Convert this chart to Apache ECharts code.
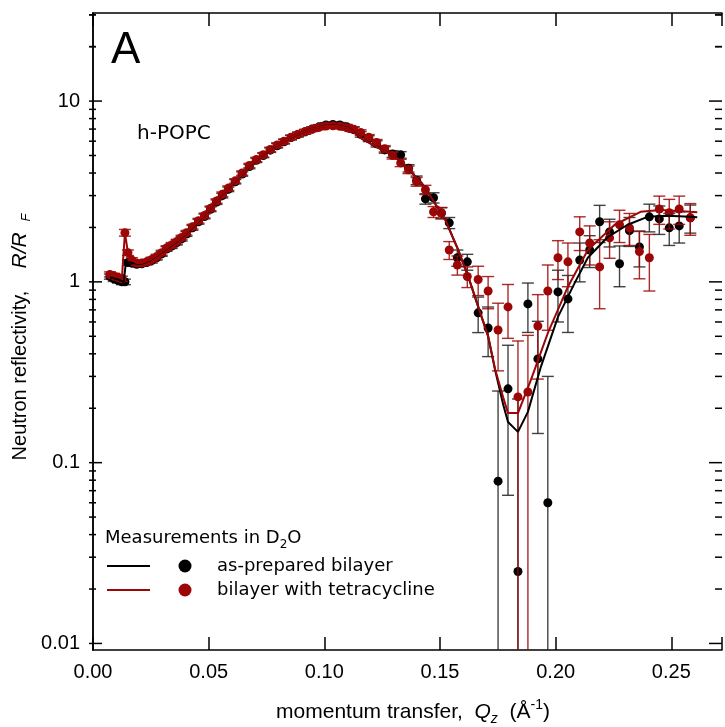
<!DOCTYPE html>
<html>
<head>
<meta charset="utf-8">
<script src="https://cdn.jsdelivr.net/npm/echarts@6/dist/echarts.min.js"></script>
<style>
  html, body { margin: 0; padding: 0; background: #fff; }
  #main { width: 725px; height: 727px; }
</style>
</head>
<body>
<div id="main"></div>
<script>
// momentum transfer Qz (1/A), shared by both measurements
const qValues = [
  0.0073, 0.0090, 0.0108, 0.0125, 0.0138, 0.0151, 0.0168, 0.0189, 0.0211, 0.0232,
  0.0254, 0.0275, 0.0297, 0.0318, 0.0340, 0.0362, 0.0383, 0.0404, 0.0430, 0.0456,
  0.0482, 0.0508, 0.0534, 0.0559, 0.0585, 0.0615, 0.0645, 0.0676, 0.0706, 0.0736,
  0.0766, 0.0796, 0.0826, 0.0856, 0.0886, 0.0917, 0.0947, 0.0977, 0.1007, 0.1037,
  0.1067, 0.1097, 0.1127, 0.1157, 0.1192, 0.1226, 0.1261, 0.1295, 0.1330, 0.1364,
  0.1399, 0.1437, 0.1472, 0.1506, 0.1540, 0.1575, 0.1618, 0.1665, 0.1708, 0.1751,
  0.1794, 0.1837, 0.1880, 0.1923, 0.1966, 0.2010, 0.2053, 0.2104, 0.2147, 0.2190,
  0.2233, 0.2276, 0.2319, 0.2362, 0.2405, 0.2448, 0.2491, 0.2534, 0.2582
];

// as-prepared bilayer
const blackR = [
  1.07, 1.04, 1.02, 1.00, 1.00, 1.28, 1.27, 1.25, 1.26, 1.28,
  1.31, 1.36, 1.43, 1.52, 1.58, 1.65, 1.73, 1.84, 1.99, 2.15,
  2.30, 2.52, 2.76, 3.00, 3.25, 3.58, 3.95, 4.34, 4.70, 5.00,
  5.35, 5.66, 5.96, 6.28, 6.52, 6.75, 7.00, 7.20, 7.38, 7.42,
  7.38, 7.20, 6.95, 6.55, 6.20, 5.80, 5.37, 5.10, 5.04, 4.25,
  3.65, 2.88, 2.92, 2.40, 2.12, 1.36, 1.29, 0.674, 0.556, 0.079,
  0.256, 0.025, 0.755, 0.375, 0.060, 0.88, 0.805, 1.32, 1.50, 2.15,
  1.89, 1.26, 1.92, 1.56, 2.29, 2.23, 1.99, 2.04, 2.26
];
const blackErr = [
  0.035, 0.035, 0.035, 0.035, 0.035, 0.045, 0.04, 0.04, 0.04, 0.04,
  0.04, 0.04, 0.045, 0.045, 0.05, 0.05, 0.05, 0.055, 0.06, 0.065,
  0.07, 0.075, 0.08, 0.09, 0.095, 0.10, 0.11, 0.12, 0.13, 0.14,
  0.15, 0.16, 0.17, 0.18, 0.19, 0.20, 0.20, 0.21, 0.22, 0.22,
  0.23, 0.23, 0.23, 0.23, 0.23, 0.23, 0.22, 0.22, 0.21, 0.20,
  0.20, 0.19, 0.19, 0.17, 0.15, 0.14, 0.13, 0.15, 0.17, 0.17,
  0.19, 0.20, 0.23, 0.23, 0.24, 0.28, 0.28, 0.32, 0.30, 0.50,
  0.33, 0.32, 0.35, 0.35, 0.40, 0.40, 0.40, 0.40, 0.40
];

// bilayer with tetracycline
const redR = [
  1.10, 1.08, 1.06, 1.04, 1.87, 1.45, 1.32, 1.27, 1.27, 1.29,
  1.33, 1.38, 1.45, 1.54, 1.60, 1.67, 1.76, 1.87, 2.02, 2.18,
  2.33, 2.55, 2.80, 3.05, 3.30, 3.62, 4.00, 4.40, 4.75, 5.05,
  5.40, 5.72, 6.00, 6.30, 6.55, 6.78, 6.98, 7.15, 7.28, 7.30,
  7.25, 7.12, 6.98, 6.70, 6.30, 5.90, 5.45, 5.00, 4.55, 4.17,
  3.58, 3.23, 2.44, 2.41, 1.50, 1.24, 1.07, 1.03, 0.89, 0.542,
  0.727, 0.231, 0.246, 0.57, 0.89, 1.36, 1.29, 1.89, 1.64, 1.21,
  1.75, 2.07, 1.99, 1.47, 1.36, 2.53, 2.41, 2.53, 2.26
];
const redErr = [
  0.035, 0.035, 0.035, 0.035, 0.08, 0.05, 0.04, 0.04, 0.04, 0.04,
  0.04, 0.04, 0.045, 0.045, 0.05, 0.05, 0.05, 0.055, 0.06, 0.065,
  0.07, 0.075, 0.08, 0.09, 0.095, 0.10, 0.11, 0.12, 0.13, 0.14,
  0.15, 0.16, 0.17, 0.18, 0.19, 0.20, 0.20, 0.21, 0.22, 0.22,
  0.23, 0.23, 0.23, 0.23, 0.23, 0.23, 0.22, 0.22, 0.21, 0.20,
  0.20, 0.19, 0.17, 0.17, 0.17, 0.15, 0.14, 0.19, 0.18, 0.22,
  0.24, 0.24, 0.26, 0.28, 0.35, 0.33, 0.35, 0.40, 0.40, 0.50,
  0.40, 0.42, 0.40, 0.43, 0.47, 0.45, 0.45, 0.45, 0.45
];

// model fits
const fitBlackQ = [
  0.0073, 0.0108, 0.0133, 0.0140, 0.0142, 0.0159, 0.0189, 0.0211, 0.0245, 0.0318,
  0.0374, 0.0430, 0.0491, 0.0546, 0.0620, 0.0688, 0.0762, 0.0848, 0.0934, 0.1007,
  0.1050, 0.1106, 0.1162, 0.1235, 0.1308, 0.1364, 0.1420, 0.1450, 0.1523, 0.1579,
  0.1622, 0.1665, 0.1708, 0.1738, 0.1773, 0.1794, 0.1837, 0.1880, 0.1936, 0.2010,
  0.2083, 0.2139, 0.2225, 0.2311, 0.2397, 0.2483, 0.2582, 0.2612
];
const fitBlackR = [
  1.06, 1.03, 1.00, 1.00, 1.28, 1.28, 1.26, 1.26, 1.31, 1.52,
  1.71, 2.00, 2.40, 2.93, 3.65, 4.50, 5.35, 6.25, 6.95, 7.30,
  7.33, 7.10, 6.20, 5.50, 4.93, 4.20, 3.53, 3.10, 2.20, 1.50,
  1.07, 0.73, 0.50, 0.326, 0.21, 0.168, 0.148, 0.191, 0.339, 0.640,
  0.99, 1.36, 1.77, 2.07, 2.29, 2.32, 2.29, 2.28
];
const fitRedQ = [
  0.0073, 0.0108, 0.0125, 0.0138, 0.0151, 0.0168, 0.0189, 0.0211, 0.0245, 0.0318,
  0.0374, 0.0430, 0.0491, 0.0546, 0.0620, 0.0688, 0.0762, 0.0848, 0.0934, 0.1007,
  0.1050, 0.1106, 0.1162, 0.1235, 0.1308, 0.1364, 0.1420, 0.1450, 0.1523, 0.1579,
  0.1622, 0.1665, 0.1708, 0.1738, 0.1773, 0.1794, 0.1837, 0.1893, 0.1966, 0.2053,
  0.2139, 0.2255, 0.2367, 0.2453, 0.2582, 0.2612
];
const fitRedR = [
  1.10, 1.07, 1.05, 1.87, 1.45, 1.32, 1.27, 1.27, 1.32, 1.53,
  1.72, 2.01, 2.41, 2.94, 3.66, 4.52, 5.36, 6.26, 6.95, 7.28,
  7.30, 7.08, 6.20, 5.50, 4.93, 4.20, 3.53, 3.10, 2.20, 1.50,
  1.07, 0.73, 0.50, 0.33, 0.23, 0.188, 0.188, 0.287, 0.52, 0.94,
  1.50, 2.07, 2.44, 2.50, 2.44, 2.43
];

const yTickLabels = [0.01, 0.1, 1, 10];
const xTickLabels = [0, 0.05, 0.1, 0.15, 0.2, 0.25];

const BLACK = '#000000';
const RED = '#9c0606';
const FONT = '"Liberation Sans", Arial, sans-serif';
const LFONT = '"DejaVu Sans", sans-serif';

const chart = echarts.init(document.getElementById('main'));

function errorBars(color) {
  return function (params, api) {
    const q = api.value(0), r = api.value(1), e = api.value(2);
    const cs = params.coordSys;
    const bottomEdge = cs.y + cs.height;
    const x = api.coord([q, r])[0];
    const top = api.coord([q, r + e])[1];
    const lo = r - e;
    let bottom = bottomEdge, lowCap = false;
    if (lo > 0) {
      const yl = api.coord([q, lo])[1];
      if (yl < bottomEdge) { bottom = yl; lowCap = true; }
    }
    const style = { stroke: color, lineWidth: 1.4, opacity: 0.85 };
    const w = 6;
    const children = [
      { type: 'line', shape: { x1: x, y1: top, x2: x, y2: bottom }, style: style },
      { type: 'line', shape: { x1: x - w, y1: top, x2: x + w, y2: top }, style: style }
    ];
    if (lowCap) {
      children.push({ type: 'line', shape: { x1: x - w, y1: bottom, x2: x + w, y2: bottom }, style: style });
    }
    return { type: 'group', children: children };
  };
}

// log ticks on left and right frame
const logTicks = [];
[0.01, 0.1, 1, 10].forEach(function (d) {
  for (let k = 1; k <= 9; k++) logTicks.push([d * k, k === 1 ? 1 : 0]);
});
logTicks.push([20, 0], [30, 0]);

function logTickItem(params, api) {
  const cs = params.coordSys;
  const v = api.value(0);
  const y = api.coord([0.1, v])[1];
  const len = api.value(1) ? 13 : 7;
  const xl = cs.x - 4, xr = cs.x + cs.width;
  const style = { stroke: '#000', lineWidth: 1.5 };
  return {
    type: 'group',
    children: [
      { type: 'line', shape: { x1: xl, y1: y, x2: xl + len, y2: y }, style: style },
      { type: 'line', shape: { x1: xr - len, y1: y, x2: xr, y2: y }, style: style }
    ]
  };
}

function isXTick(v) {
  return xTickLabels.some(function (t) { return Math.abs(t - v) < 1e-6; });
}
function isYTick(v) {
  return yTickLabels.some(function (t) { return Math.abs(Math.log10(v) - Math.log10(t)) < 1e-6; });
}

const xCommon = {
  type: 'value',
  min: 0,
  max: 0.2719,
  interval: 0.05,
  splitLine: { show: false },
  axisLine: { lineStyle: { color: '#000', width: 1.5 } },
  axisTick: { inside: true, length: 13, lineStyle: { color: '#000', width: 1.5 } }
};
const yCommon = {
  type: 'log',
  logBase: 10,
  min: 0.0092,
  max: 30.7,
  splitLine: { show: false },
  axisTick: { show: false },
  axisLine: { lineStyle: { color: '#000', width: 1.5 } }
};

const option = {
  animation: false,
  backgroundColor: '#fff',
  grid: { left: 93, right: 0, top: 13, bottom: 77 },
  xAxis: [
    Object.assign({}, xCommon, {
      position: 'bottom',
      axisLabel: {
        color: '#000', fontSize: 20, fontFamily: FONT, margin: 12,
        formatter: function (v) { return isXTick(v) ? v.toFixed(2) : ''; }
      }
    }),
    Object.assign({}, xCommon, { position: 'top', axisLabel: { show: false } })
  ],
  yAxis: [
    Object.assign({}, yCommon, {
      position: 'left',
      offset: 4,
      axisLabel: {
        color: '#000', fontSize: 20, fontFamily: FONT, margin: 9,
        formatter: function (v) { return isYTick(v) ? String(+v.toPrecision(3)) : ''; }
      }
    }),
    Object.assign({}, yCommon, { position: 'right', axisLabel: { show: false } })
  ],
  series: [
    {
      type: 'custom', name: 'ticks', clip: false, silent: true,
      renderItem: logTickItem, encode: { y: 0 },
      data: logTicks, z: 1
    },
    {
      type: 'custom', name: 'black err', renderItem: errorBars('#222'), clip: true,
      encode: { x: 0, y: 1 },
      data: qValues.map(function (q, i) { return [q, blackR[i], blackErr[i]]; }), z: 2
    },
    {
      type: 'scatter', name: 'as-prepared bilayer', symbolSize: 9,
      itemStyle: { color: BLACK, opacity: 1 },
      data: qValues.map(function (q, i) { return [q, blackR[i]]; }), z: 3
    },
    {
      type: 'custom', name: 'red err', renderItem: errorBars(RED), clip: true,
      encode: { x: 0, y: 1 },
      data: qValues.map(function (q, i) { return [q, redR[i], redErr[i]]; }), z: 4
    },
    {
      type: 'scatter', name: 'bilayer with tetracycline', symbolSize: 9,
      itemStyle: { color: RED, opacity: 1 },
      data: qValues.map(function (q, i) { return [q, redR[i]]; }), z: 5
    },
    {
      type: 'line', name: 'fit black', showSymbol: false, symbol: 'none',
      lineStyle: { color: BLACK, width: 2 },
      data: fitBlackQ.map(function (q, i) { return [q, fitBlackR[i]]; }), z: 6
    },
    {
      type: 'line', name: 'fit red', showSymbol: false, symbol: 'none',
      lineStyle: { color: RED, width: 2 },
      data: fitRedQ.map(function (q, i) { return [q, fitRedR[i]]; }), z: 7
    }
  ],
  graphic: [
    {
      type: 'text', left: 111, top: 29,
      style: { text: 'A', font: '44px ' + FONT, fill: '#000' }
    },
    {
      type: 'text', left: 137, top: 124,
      style: { text: 'h-POPC', font: '20px ' + LFONT, fill: '#000' }
    },
    {
      type: 'text', x: 105, y: 538,
      style: {
        text: '{a|Measurements in D}{s|2}{a|O}',
        verticalAlign: 'middle',
        rich: {
          a: { font: '18px ' + LFONT, fill: '#000', lineHeight: 26 },
          s: { font: '12px ' + LFONT, fill: '#000', verticalAlign: 'bottom', lineHeight: 26 }
        }
      }
    },
    { type: 'line', shape: { x1: 107, y1: 566, x2: 150, y2: 566 }, style: { stroke: BLACK, lineWidth: 2 } },
    { type: 'circle', shape: { cx: 185, cy: 566, r: 6.5 }, style: { fill: BLACK } },
    {
      type: 'text', x: 217, y: 566,
      style: { text: 'as-prepared bilayer', font: '18px ' + LFONT, fill: '#000', verticalAlign: 'middle' }
    },
    { type: 'line', shape: { x1: 107, y1: 590, x2: 150, y2: 590 }, style: { stroke: RED, lineWidth: 2 } },
    { type: 'circle', shape: { cx: 185, cy: 590, r: 6.5 }, style: { fill: RED } },
    {
      type: 'text', x: 217, y: 590,
      style: { text: 'bilayer with tetracycline', font: '18px ' + LFONT, fill: '#000', verticalAlign: 'middle' }
    },
    {
      type: 'text', x: 413, y: 712,
      style: {
        text: '{a|momentum transfer,  }{i|Q}{s|z}{a|  (Å}{p|-1}{a|)}',
        align: 'center', verticalAlign: 'middle',
        rich: {
          a: { font: '21px ' + FONT, fill: '#000', lineHeight: 28 },
          i: { font: 'italic 21px ' + FONT, fill: '#000', lineHeight: 28 },
          s: { font: 'italic 14px ' + FONT, fill: '#000', verticalAlign: 'bottom', lineHeight: 28 },
          p: { font: '14px ' + FONT, fill: '#000', verticalAlign: 'top', lineHeight: 28 }
        }
      }
    },
    {
      type: 'text', x: 20, y: 337, rotation: Math.PI / 2,
      style: {
        text: '{a|Neutron reflectivity,    }{i|R/R}{s|   F}',
        align: 'center', verticalAlign: 'middle',
        rich: {
          a: { font: '20px ' + FONT, fill: '#000', lineHeight: 26 },
          i: { font: 'italic 21px ' + FONT, fill: '#000', lineHeight: 26 },
          s: { font: 'italic 13px ' + FONT, fill: '#000', verticalAlign: 'bottom', lineHeight: 26 }
        }
      }
    }
  ]
};

chart.setOption(option);
</script>
</body>
</html>
